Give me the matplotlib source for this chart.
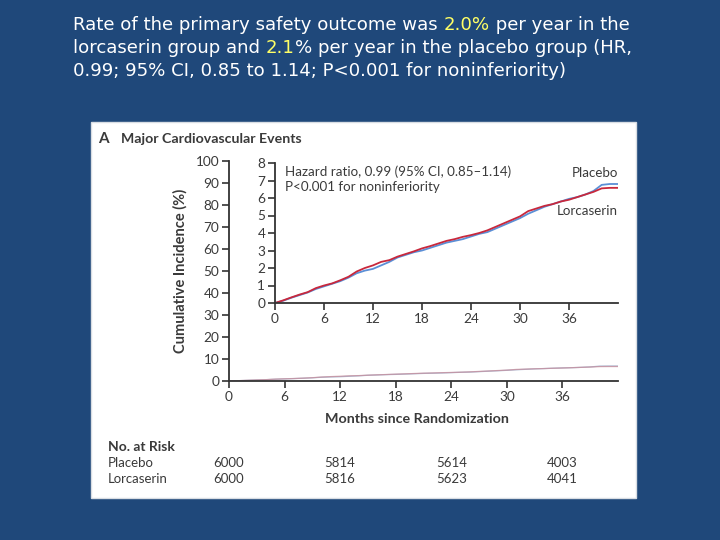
import matplotlib
matplotlib.use("Agg")
import matplotlib.pyplot as plt
from matplotlib.patches import Rectangle

months = list(range(0, 43))
lorcaserin = [0, 0.15, 0.32, 0.48, 0.62, 0.85, 1.0, 1.12, 1.3, 1.5, 1.8, 2.0, 2.15, 2.35, 2.45,
              2.65, 2.8, 2.95, 3.12, 3.25, 3.4, 3.55, 3.65, 3.78, 3.88, 4.0, 4.15, 4.35, 4.55,
              4.75, 4.95, 5.25, 5.4, 5.55, 5.65, 5.8, 5.9, 6.05, 6.2, 6.35, 6.55, 6.58, 6.58]
placebo = [0, 0.13, 0.3, 0.45, 0.6, 0.8, 0.95, 1.1, 1.25, 1.45, 1.7, 1.85, 1.95, 2.15, 2.35,
           2.6, 2.75, 2.9, 3.0, 3.15, 3.3, 3.45, 3.55, 3.65, 3.8, 3.95, 4.05, 4.25, 4.45,
           4.65, 4.85, 5.1, 5.3, 5.5, 5.65, 5.8, 5.95, 6.05, 6.2, 6.4, 6.75, 6.8, 6.8]
risk_months = [0, 12, 24, 36]
risk_placebo = ["6000", "5814", "5614", "4003"]
risk_lorcaserin = ["6000", "5816", "5623", "4041"]
main_yticks = [0, 10, 20, 30, 40, 50, 60, 70, 80, 90, 100]
inset_yticks = [0, 1, 2, 3, 4, 5, 6, 7, 8]
xticks = [0, 6, 12, 18, 24, 30, 36]

BG = "#1F487A"
FONT = "Lato"
TC = "#3a3a3a"

W, H = 720, 540
fig = plt.figure(figsize=(7.2, 5.4), dpi=100)
fig.patch.set_facecolor(BG)

def fx(px):
    return px / W

def fy(py):
    return 1 - py / H

# white panel
fig.add_artist(Rectangle((fx(91), fy(498)), fx(636) - fx(91), fy(122) - fy(498),
                         transform=fig.transFigure, facecolor="white",
                         edgecolor="#d8dde3", lw=1.0, zorder=0))

# title with highlighted parts
lines = [
    [("Rate of the primary safety outcome was ", "white"), ("2.0%", "#FFFF66"), (" per year in the", "white")],
    [("lorcaserin group and ", "white"), ("2.1", "#FFFF66"), ("% per year in the placebo group (HR,", "white")],
    [("0.99; 95% CI, 0.85 to 1.14; P<0.001 for noninferiority)", "white")],
]
fig.canvas.draw()
renderer = fig.canvas.get_renderer()
for i, parts in enumerate(lines):
    xpix = 73
    ypix = 30 + i * 23
    for txt, col in parts:
        t = fig.text(fx(xpix), fy(ypix), txt, color=col, fontsize=13.1,
                     family="DejaVu Sans", ha="left", va="baseline")
        bb = t.get_window_extent(renderer=renderer)
        xpix += bb.width

def style(ax, yticks):
    ax.set_facecolor("none")
    for s in ["top", "right"]:
        ax.spines[s].set_visible(False)
    for s in ["left", "bottom"]:
        ax.spines[s].set_color("#333333")
        ax.spines[s].set_linewidth(1.3)
    ax.set_xlim(0, 42)
    ax.set_xticks(xticks)
    ax.set_yticks(yticks)
    ax.tick_params(axis="both", direction="out", length=5, width=1.2, color="#333333",
                   labelsize=9.8, labelcolor=TC, pad=2)
    for lab in ax.get_xticklabels() + ax.get_yticklabels():
        lab.set_family(FONT)

# main axes
ax = fig.add_axes([fx(229), fy(381), fx(618) - fx(229), fy(161) - fy(381)])
style(ax, main_yticks)
ax.set_ylim(0, 100)
ax.plot(months, placebo, color="#9FB0CC", lw=0.9, alpha=0.9)
ax.plot(months, lorcaserin, color="#C8909E", lw=0.9, alpha=0.8)
ax.set_xlabel("Months since Randomization", family=FONT, fontweight="bold",
              fontsize=10.3, color=TC)
ax.xaxis.set_label_coords((417 - 229) / (618 - 229), -(419 - 381) / (381 - 161))
ax.xaxis.label.set_va("center")
ax.set_ylabel("Cumulative Incidence (%)", family=FONT, fontweight="bold",
              fontsize=10.5, color=TC, labelpad=6)

# inset
ax2 = fig.add_axes([fx(275), fy(303), fx(618) - fx(275), fy(163) - fy(303)])
style(ax2, inset_yticks)
ax2.set_ylim(0, 8)
ax2.plot(months, placebo, color="#5B8FD6", lw=1.3)
ax2.plot(months, lorcaserin, color="#C8283C", lw=1.3)
ax2.text(0.03, 0.98, "Hazard ratio, 0.99 (95% CI, 0.85\u20131.14)\nP<0.001 for noninferiority",
         transform=ax2.transAxes, family=FONT, fontsize=9.6, color=TC, va="top",
         linespacing=1.25)
ax2.text(1.0, 0.97, "Placebo", transform=ax2.transAxes, family=FONT, fontsize=9.6,
         color=TC, ha="right", va="top")
ax2.text(1.0, 0.70, "Lorcaserin", transform=ax2.transAxes, family=FONT, fontsize=9.6,
         color=TC, ha="right", va="top")

# panel heading
fig.text(fx(98), fy(143), "A", family=FONT, fontweight="bold", fontsize=11, color=TC)
fig.text(fx(121), fy(143), "Major Cardiovascular Events", family=FONT, fontweight="bold",
         fontsize=10.2, color=TC)

# number at risk
fig.text(fx(108), fy(451), "No. at Risk", family=FONT, fontweight="bold", fontsize=10, color=TC)
fig.text(fx(108), fy(467), "Placebo", family=FONT, fontsize=9.5, color=TC)
fig.text(fx(108), fy(483), "Lorcaserin", family=FONT, fontsize=9.5, color=TC)
ax_h_px = 381 - 161
for m, p, l in zip(risk_months, risk_placebo, risk_lorcaserin):
    ax.text(m, -(467 - 381) / ax_h_px, p, transform=ax.get_xaxis_transform(),
            family=FONT, fontsize=9.5, color=TC, ha="center", va="baseline")
    ax.text(m, -(483 - 381) / ax_h_px, l, transform=ax.get_xaxis_transform(),
            family=FONT, fontsize=9.5, color=TC, ha="center", va="baseline")

fig.savefig("out.png", dpi=100, facecolor=BG)
